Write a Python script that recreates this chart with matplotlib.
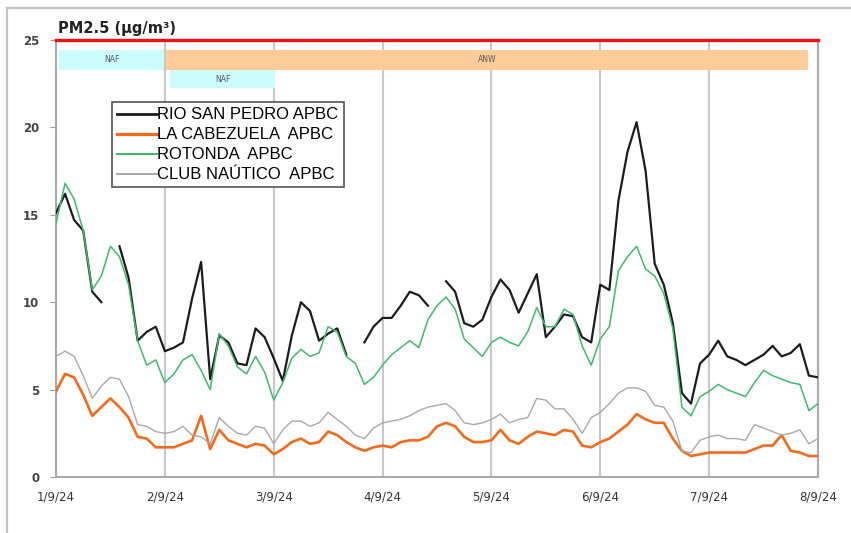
import numpy as np
import matplotlib
matplotlib.use("Agg")
import matplotlib.pyplot as plt
from matplotlib.lines import Line2D

nan = np.nan

# ---- data (2-hourly values, 1/9/24 00:00 -> 8/9/24 00:00) ----
hours = np.arange(85) * 2

rio_san_pedro = [15.1, 16.2, 14.7, 14.1, 10.6, 10.0, nan, 13.2, 11.4, 7.8, 8.3, 8.6,
                 7.2, 7.4, 7.7, 10.2, 12.3, 5.6, 8.1, 7.7, 6.5, 6.4, 8.5, 8.0,
                 6.8, 5.5, 8.1, 10.0, 9.5, 7.8, 8.2, 8.5, 7.0, nan, 7.7, 8.6,
                 9.1, 9.1, 9.8, 10.6, 10.4, 9.8, nan, 11.2, 10.6, 8.8, 8.6, 9.0,
                 10.3, 11.3, 10.7, 9.4, 10.5, 11.6, 8.0, 8.6, 9.3, 9.2, 8.0, 7.7,
                 11.0, 10.7, 15.8, 18.6, 20.3, 17.5, 12.2, 11.0, 8.8, 4.8, 4.2, 6.5,
                 7.0, 7.8, 6.9, 6.7, 6.4, 6.7, 7.0, 7.5, 6.9, 7.1, 7.6, 5.8, 5.7]

la_cabezuela = [4.9, 5.9, 5.7, 4.7, 3.5, 4.0, 4.5, 4.0, 3.4, 2.3, 2.2, 1.7,
                1.7, 1.7, 1.9, 2.1, 3.5, 1.6, 2.7, 2.1, 1.9, 1.7, 1.9, 1.8,
                1.3, 1.6, 2.0, 2.2, 1.9, 2.0, 2.6, 2.4, 2.0, 1.7, 1.5, 1.7,
                1.8, 1.7, 2.0, 2.1, 2.1, 2.3, 2.9, 3.1, 2.9, 2.3, 2.0, 2.0,
                2.1, 2.7, 2.1, 1.9, 2.3, 2.6, 2.5, 2.4, 2.7, 2.6, 1.8, 1.7,
                2.0, 2.2, 2.6, 3.0, 3.6, 3.3, 3.1, 3.1, 2.2, 1.5, 1.2, 1.3,
                1.4, 1.4, 1.4, 1.4, 1.4, 1.6, 1.8, 1.8, 2.4, 1.5, 1.4, 1.2, 1.2]

rotonda = [14.5, 16.8, 15.9, 14.1, 10.7, 11.5, 13.2, 12.6, 11.0, 7.8, 6.4, 6.7,
           5.4, 5.9, 6.7, 7.0, 6.1, 5.0, 8.2, 7.5, 6.3, 5.9, 6.9, 6.0,
           4.4, 5.4, 6.8, 7.3, 6.9, 7.1, 8.6, 8.3, 6.9, 6.5, 5.3, 5.7,
           6.4, 7.0, 7.4, 7.8, 7.4, 9.0, 9.8, 10.3, 9.6, 7.9, 7.4, 6.9,
           7.7, 8.0, 7.7, 7.5, 8.3, 9.7, 8.6, 8.6, 9.6, 9.3, 7.5, 6.4,
           7.9, 8.6, 11.8, 12.6, 13.2, 11.9, 11.5, 10.5, 8.5, 4.0, 3.5, 4.6,
           4.9, 5.3, 5.0, 4.8, 4.6, 5.4, 6.1, 5.8, 5.6, 5.4, 5.3, 3.8, 4.2]

club_nautico = [6.9, 7.2, 6.9, 5.8, 4.5, 5.2, 5.7, 5.6, 4.6, 3.0, 2.9, 2.6,
                2.5, 2.6, 2.9, 2.4, 2.3, 1.9, 3.4, 2.9, 2.5, 2.4, 2.9, 2.8,
                1.9, 2.7, 3.2, 3.2, 2.9, 3.1, 3.7, 3.3, 2.9, 2.4, 2.2, 2.8,
                3.1, 3.2, 3.3, 3.5, 3.8, 4.0, 4.1, 4.2, 3.8, 3.1, 3.0, 3.1,
                3.3, 3.6, 3.1, 3.3, 3.4, 4.5, 4.4, 3.9, 3.9, 3.3, 2.5, 3.4,
                3.7, 4.2, 4.8, 5.1, 5.1, 4.9, 4.1, 4.0, 3.2, 1.5, 1.4, 2.1,
                2.3, 2.4, 2.2, 2.2, 2.1, 3.0, 2.8, 2.6, 2.4, 2.5, 2.7, 1.9, 2.2]

series_labels = ["RIO SAN PEDRO APBC", "LA CABEZUELA  APBC",
                 "ROTONDA  APBC", "CLUB NAÚTICO  APBC"]
day_labels = ["1/9/24", "2/9/24", "3/9/24", "4/9/24",
              "5/9/24", "6/9/24", "7/9/24", "8/9/24"]
limit_value = 25

# episode bars: (label, start day, end day, row)
episode_labels = ["NAF", "ANW", "NAF"]
episode_start = [0.03, 1.01, 1.05]
episode_end = [0.99, 6.91, 2.01]
episode_row = [0, 0, 1]

# ---- figure ----
fig = plt.figure(figsize=(8.51, 5.33), dpi=100)
ax = fig.add_axes([0.0658, 0.105, 0.8954, 0.820])

t = hours / 24.0
colors = ["#1c1c1c", "#f26b1d", "#3dba6f", "#a8a8a8"]
widths = [1.6, 1.9, 1.1, 1.0]
data = [rio_san_pedro, la_cabezuela, rotonda, club_nautico]
for i, (vals, c, w) in enumerate(zip(data, colors, widths)):
    ax.plot(t, vals, color=c, lw=w, zorder=3 + i, solid_joinstyle="round")

# episodes
row_y = [(23.28, 24.43), (22.25, 23.28)]
ep_colors = {"NAF": "#ccfbfb", "ANW": "#ffcc99"}
for lab, s, e, r in zip(episode_labels, episode_start, episode_end, episode_row):
    y0, y1 = row_y[r]
    ax.fill_between([s, e], y0, y1, color=ep_colors[lab], lw=0, zorder=2)
    ax.text((s + e) / 2, (y0 + y1) / 2, lab, ha="center", va="center",
            fontsize=5.5, color="#555555", zorder=3)

# limit line
ax.axhline(limit_value, color="#ee1111", lw=2.4, zorder=8, clip_on=False)

ax.set_xlim(0, 7)
ax.set_ylim(0, 25)
ax.set_xticks(range(8))
ax.set_xticklabels(day_labels, fontsize=8.5, family=["Liberation Sans Narrow", "DejaVu Sans"],
                   color="#333333")
ax.set_yticks(range(0, 26, 5))
ax.set_yticklabels([str(v) for v in range(0, 26, 5)], fontsize=8.5,
                   fontweight="bold", color="#444444")
ax.tick_params(axis="x", length=0, pad=10)
ax.tick_params(axis="y", length=4, color="#999999", pad=8)
ax.grid(axis="x", color="#c8c8c8", lw=1.5, zorder=0)
ax.set_axisbelow(True)
for side in ["left", "bottom", "right"]:
    ax.spines[side].set_color("#aaaaaa")
    ax.spines[side].set_linewidth(1.5)
ax.spines["top"].set_visible(False)

fig.text(0.068, 0.933, "PM2.5 (µg/m³)", fontsize=10.5, fontweight="bold",
         color="#222222", ha="left", va="bottom")

handles = [Line2D([], [], color=c, lw=w + 0.4) for c, w in zip(colors, widths)]
leg = ax.legend(handles, series_labels, loc="upper left",
                bbox_to_anchor=(0.073, 0.857), frameon=True, fancybox=False,
                edgecolor="#555555", framealpha=1,
                prop={"family": ["Liberation Sans", "DejaVu Sans"], "size": 12},
                handlelength=2.4, handletextpad=0.05, borderpad=0.3,
                labelspacing=0.3, borderaxespad=0)
leg.get_frame().set_linewidth(1.2)
leg.set_zorder(10)

# outer frame lines
fig.add_artist(Line2D([7 / 851, 1], [1 - 8 / 533, 1 - 8 / 533], color="#c4c4c4", lw=1.6))
fig.add_artist(Line2D([7 / 851, 7 / 851], [0, 1 - 8 / 533], color="#c4c4c4", lw=1.6))

fig.savefig("out.png", dpi=100)
